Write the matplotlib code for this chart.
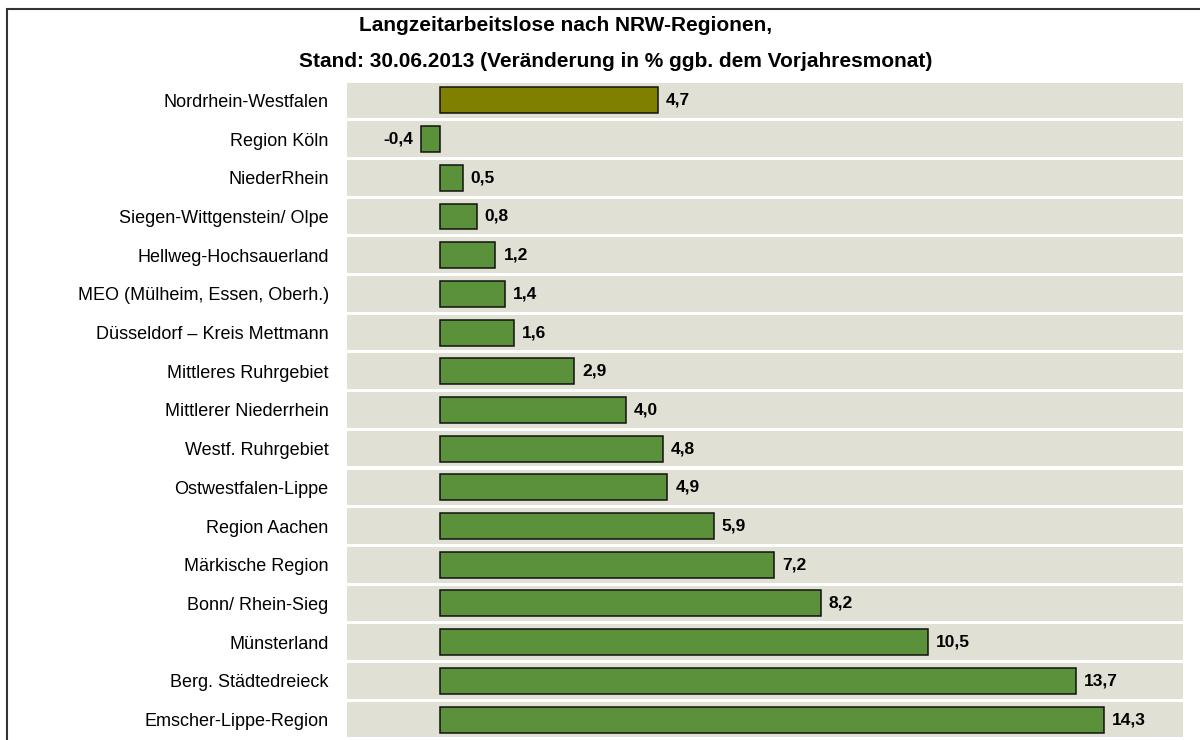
import matplotlib.pyplot as plt
from matplotlib.patches import Rectangle

plt.rcParams['font.family'] = ['Liberation Sans', 'DejaVu Sans']

# Daten
regionen = ["Nordrhein-Westfalen", "Region Köln", "NiederRhein",
            "Siegen-Wittgenstein/ Olpe", "Hellweg-Hochsauerland",
            "MEO (Mülheim, Essen, Oberh.)", "Düsseldorf – Kreis Mettmann",
            "Mittleres Ruhrgebiet", "Mittlerer Niederrhein", "Westf. Ruhrgebiet",
            "Ostwestfalen-Lippe", "Region Aachen", "Märkische Region",
            "Bonn/ Rhein-Sieg", "Münsterland", "Berg. Städtedreieck",
            "Emscher-Lippe-Region"]
werte = [4.7, -0.4, 0.5, 0.8, 1.2, 1.4, 1.6, 2.9, 4.0, 4.8, 4.9, 5.9, 7.2,
         8.2, 10.5, 13.7, 14.3]

fig = plt.figure(figsize=(12, 7.4), dpi=100)
# Rahmen ums Diagramm
fig.patches.append(Rectangle((0.006, -0.05), 1.1, 1.038, transform=fig.transFigure,
                             fill=False, edgecolor='#333333', linewidth=1.5))

ax = fig.add_axes([0.289, 0.0015, 0.697, 0.889])
ax.set_facecolor('white')
n = len(regionen)
y = list(range(n))

# Hintergrundstreifen
for i in y:
    ax.axhspan(i - 0.5 + 0.04, i + 0.5 - 0.04, color='#E0E0D4', zorder=0, lw=0)

farben = ['#808000'] + ['#5B913B'] * (n - 1)
ax.barh(y, werte, height=0.67, color=farben, edgecolor='#111111',
        linewidth=1.1, zorder=2)

for i, v in enumerate(werte):
    txt = f"{v:.1f}".replace('.', ',')
    if v >= 0:
        ax.text(v + 0.17, i, txt, va='center', ha='left', fontsize=12.5,
                fontweight='bold', zorder=3)
    else:
        ax.text(v - 0.17, i, txt, va='center', ha='right', fontsize=12.5,
                fontweight='bold', zorder=3)

ax.set_xlim(-2, 16)
ax.set_ylim(n - 0.5, -0.5)
ax.set_yticks(y)
ax.set_yticklabels(regionen, fontsize=13)
ax.tick_params(axis='y', length=0, pad=13)
ax.set_xticks([])
for s in ax.spines.values():
    s.set_visible(False)

fig.text(0.471, 0.966, "Langzeitarbeitslose nach NRW-Regionen,", ha='center',
         va='center', fontsize=15, fontweight='bold')
fig.text(0.513, 0.917, "Stand: 30.06.2013 (Veränderung in % ggb. dem Vorjahresmonat)",
         ha='center', va='center', fontsize=15, fontweight='bold')

fig.savefig('out.png', dpi=100)
